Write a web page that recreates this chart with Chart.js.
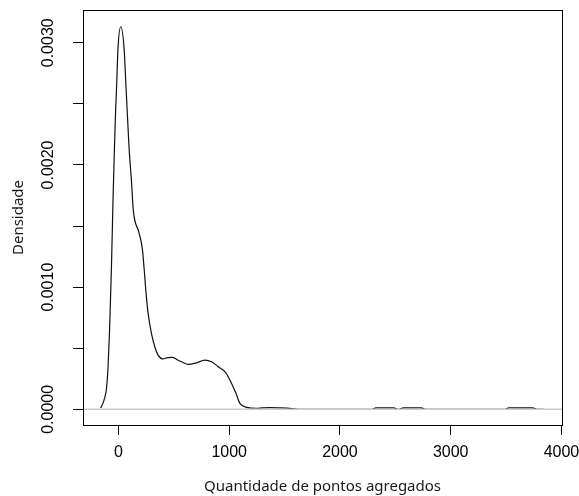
<!DOCTYPE html>
<html>
<head>
<meta charset="utf-8">
<script src="https://cdn.jsdelivr.net/npm/chart.js@4.4.1/dist/chart.umd.min.js"></script>
<style>
  html, body { margin: 0; padding: 0; background: #fff; }
  #wrap { width: 579px; height: 496px; }
</style>
</head>
<body>
<div id="wrap"><canvas id="densidade"></canvas></div>
<script>
// kernel density estimate
const pontos = [-160, -130, -106, -94, -81, -63, -49, -36, -27, -15, -4, 21,
  51, 66, 81, 96, 118, 134, 184, 215, 233, 247, 268, 298, 328, 358, 403, 446,
  488, 527, 570, 629, 705, 780, 841, 901, 961, 1006, 1061, 1097, 1157, 1248,
  1296, 1368, 1458, 1564, 1620, 2290, 2325, 2485, 2525, 2535, 2572, 2735,
  2770, 3490, 3525, 3740, 3780, 3845];
const densidade = [0.0000106, 0.000076, 0.000185, 0.000349, 0.000624,
  0.001167, 0.001713, 0.002138, 0.002408, 0.002681, 0.002954, 0.003131,
  0.002954, 0.002681, 0.002408, 0.002138, 0.001863, 0.00163, 0.00145,
  0.00132, 0.00114, 0.000976, 0.000786, 0.000622, 0.000512, 0.000444,
  0.000412, 0.000424, 0.000426, 0.000408, 0.00039, 0.000368, 0.000381,
  0.000403, 0.00039, 0.000349, 0.000308, 0.00024, 0.000131, 0.000049,
  0.000016, 0.000009, 0.000012, 0.000015, 0.000012, 0.000006, 0, 0,
  0.000012, 0.000012, 0, 0, 0.000012, 0.000012, 0, 0, 0.000012, 0.000012,
  0, 0];

const xTicks = [0, 1000, 2000, 3000, 4000];
const yTicks = [0, 0.0005, 0.001, 0.0015, 0.002, 0.0025, 0.003];
const xLimits = [-320, 4005];
const yLimits = [-0.000128, 0.003268];

const curva = pontos.map((x, i) => ({ x: x, y: densidade[i] }));
const linhaZero = xLimits.map(x => ({ x: x, y: 0 }));

// plot frame like R's box()
const caixa = {
  id: 'caixa',
  afterDraw(chart) {
    const { ctx, chartArea: a } = chart;
    ctx.save();
    ctx.strokeStyle = '#000';
    ctx.lineWidth = 1;
    ctx.strokeRect(Math.round(a.left) + 0.5, Math.round(a.top) + 0.5,
      Math.round(a.right - a.left), Math.round(a.bottom - a.top));
    ctx.restore();
  }
};

const fonteEixo = { family: 'Liberation Sans, Arial, sans-serif', size: 16 };
const fonteTitulo = { family: 'Noto Sans, sans-serif', size: 15 };

new Chart(document.getElementById('densidade'), {
  type: 'line',
  data: {
    datasets: [
      {
        data: linhaZero,
        borderColor: '#cccccc',
        borderWidth: 1.5,
        pointRadius: 0,
        order: 0
      },
      {
        data: curva,
        borderColor: '#111111',
        borderWidth: 1.2,
        pointRadius: 0,
        cubicInterpolationMode: 'monotone',
        order: 1
      }
    ]
  },
  options: {
    responsive: true,
    maintainAspectRatio: false,
    animation: false,
    layout: { padding: { top: 10, right: 17, left: 0, bottom: 0 } },
    plugins: { legend: { display: false }, tooltip: { enabled: false } },
    scales: {
      x: {
        type: 'linear',
        min: xLimits[0],
        max: xLimits[1],
        afterBuildTicks: s => { s.ticks = xTicks.map(v => ({ value: v })); },
        afterFit: s => { s.height = 71; s.paddingLeft = 0; s.paddingRight = 0; },
        grid: { drawOnChartArea: false, tickLength: 10, tickColor: '#000', tickWidth: 1 },
        border: { display: false },
        ticks: { color: '#000', font: fonteEixo, padding: 8, maxRotation: 0,
          callback: v => String(v) },
        title: { display: true, text: 'Quantidade de pontos agregados',
          color: '#1a1a1a', font: fonteTitulo, padding: { top: 0, bottom: 0 } }
      },
      y: {
        type: 'linear',
        min: yLimits[0],
        max: yLimits[1],
        afterBuildTicks: s => { s.ticks = yTicks.map(v => ({ value: v })); },
        afterFit: s => { s.width = 83; s.paddingTop = 0; s.paddingBottom = 0; },
        grid: { drawOnChartArea: false, tickLength: 10, tickColor: '#000', tickWidth: 1 },
        border: { display: false },
        ticks: {
          color: '#000', font: fonteEixo, padding: 0,
          minRotation: 90, maxRotation: 90, crossAlign: 'center',
          callback: v => (Math.round(v * 10000) % 10 === 0 ? v.toFixed(4) : '')
        },
        title: { display: true, text: 'Densidade', color: '#1a1a1a',
          font: fonteTitulo, padding: { top: 10 } }
      }
    }
  },
  plugins: [caixa]
});
</script>
</body>
</html>
